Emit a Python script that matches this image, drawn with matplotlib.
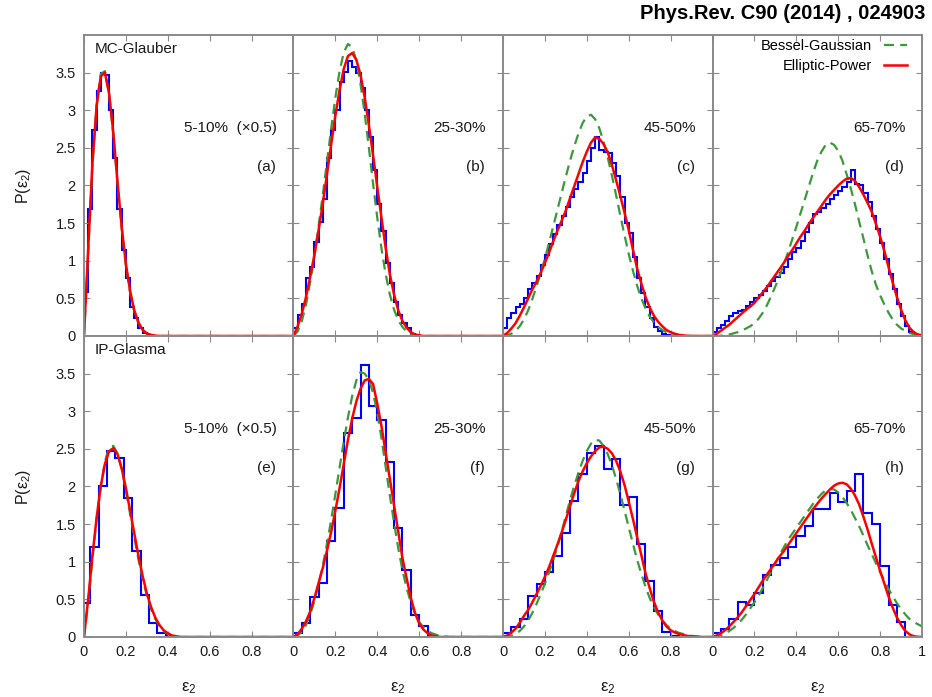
import numpy as np
import matplotlib.pyplot as plt

plt.rcParams['font.family'] = ['Liberation Sans', 'DejaVu Sans']
plt.rcParams['mathtext.fontset'] = 'custom'
plt.rcParams['mathtext.rm'] = 'Liberation Sans'
plt.rcParams['mathtext.it'] = 'Liberation Sans:italic'

# common epsilon_2 grid for the fitted curves (0 .. 1 in steps of 0.02)
eps = np.round(np.arange(51) * 0.02, 2)

# Elliptic-Power (red) and Bessel-Gaussian (green) curves
ep_a = [0, 1.15, 2.28, 3.05, 3.45, 3.50, 3.22, 2.70, 2.05, 1.45, 0.96, 0.60, 0.34, 0.18, 0.08, 0.035, 0.015, 0.005]
bg_a = [0, 1.10, 2.26, 3.06, 3.48, 3.52, 3.22, 2.68, 2.03, 1.43, 0.94, 0.58, 0.33, 0.17, 0.08, 0.03, 0.01]
ep_b = [0, 0.13, 0.30, 0.52, 0.79, 1.08, 1.41, 1.76, 2.15, 2.55, 2.93, 3.27, 3.55, 3.72, 3.76, 3.67, 3.47, 3.17,
        2.80, 2.40, 1.98, 1.57, 1.17, 0.82, 0.55, 0.34, 0.20, 0.11, 0.05, 0.02, 0.01]
bg_b = [0, 0.06, 0.20, 0.42, 0.72, 1.07, 1.46, 1.88, 2.32, 2.76, 3.17, 3.52, 3.77, 3.88, 3.84, 3.66, 3.35, 2.95,
        2.50, 2.02, 1.57, 1.16, 0.82, 0.55, 0.35, 0.21, 0.12, 0.06, 0.03, 0.01, 0.005]
ep_c = [0, 0.04, 0.10, 0.17, 0.27, 0.38, 0.50, 0.62, 0.72, 0.84, 0.97, 1.11, 1.26, 1.40, 1.53, 1.67, 1.83, 1.99,
        2.15, 2.31, 2.45, 2.57, 2.64, 2.62, 2.55, 2.44, 2.27, 2.07, 1.86, 1.64, 1.41, 1.15, 0.90, 0.70, 0.52, 0.38,
        0.27, 0.19, 0.13, 0.08, 0.05, 0.03, 0.015, 0.008, 0.003]
bg_c = [0, 0.01, 0.03, 0.07, 0.13, 0.22, 0.34, 0.49, 0.66, 0.84, 1.03, 1.24, 1.46, 1.68, 1.90, 2.12, 2.33, 2.52,
        2.69, 2.83, 2.92, 2.94, 2.88, 2.76, 2.58, 2.37, 2.13, 1.87, 1.60, 1.34, 1.09, 0.87, 0.67, 0.50, 0.37, 0.26,
        0.18, 0.12, 0.08, 0.05, 0.03, 0.02, 0.01, 0.005, 0.002]
ep_d = [0, 0.03, 0.07, 0.11, 0.15, 0.20, 0.25, 0.30, 0.35, 0.39, 0.44, 0.51, 0.58, 0.65, 0.73, 0.81, 0.89, 0.97,
        1.06, 1.14, 1.23, 1.32, 1.40, 1.49, 1.57, 1.65, 1.73, 1.81, 1.88, 1.94, 2.00, 2.05, 2.09, 2.10, 2.06, 1.98,
        1.88, 1.77, 1.65, 1.49, 1.32, 1.13, 0.92, 0.71, 0.52, 0.35, 0.21, 0.11, 0.05, 0.02, 0.01]
bg_d = [0, 0.0, 0.005, 0.01, 0.02, 0.035, 0.05, 0.07, 0.10, 0.13, 0.17, 0.23, 0.31, 0.41, 0.53, 0.66, 0.80, 0.95,
        1.11, 1.28, 1.45, 1.63, 1.81, 1.99, 2.17, 2.33, 2.45, 2.54, 2.57, 2.54, 2.46, 2.33, 2.15, 1.96, 1.75, 1.52,
        1.30, 1.07, 0.86, 0.68, 0.54, 0.42, 0.31, 0.22, 0.15, 0.10, 0.07, 0.04, 0.025, 0.015, 0.01]
ep_e = [0, 0.50, 1.07, 1.58, 2.00, 2.30, 2.47, 2.51, 2.43, 2.24, 1.98, 1.68, 1.38, 1.08, 0.81, 0.58, 0.40, 0.26,
        0.16, 0.09, 0.05, 0.02, 0.01]
bg_e = [0, 0.45, 1.02, 1.55, 2.00, 2.33, 2.52, 2.54, 2.44, 2.23, 1.95, 1.64, 1.33, 1.03, 0.77, 0.55, 0.37, 0.24,
        0.15, 0.08, 0.04, 0.02, 0.01]
ep_f = [0, 0.04, 0.11, 0.21, 0.34, 0.52, 0.72, 0.92, 1.15, 1.40, 1.68, 1.98, 2.30, 2.62, 2.90, 3.13, 3.30, 3.41,
        3.43, 3.36, 3.10, 2.80, 2.45, 2.10, 1.75, 1.40, 1.05, 0.78, 0.52, 0.32, 0.18, 0.10, 0.05, 0.02, 0.01]
bg_f = [0, 0.02, 0.07, 0.16, 0.30, 0.48, 0.70, 0.95, 1.24, 1.56, 1.90, 2.25, 2.60, 2.92, 3.20, 3.41, 3.52, 3.50,
        3.42, 3.24, 2.98, 2.64, 2.26, 1.88, 1.52, 1.18, 0.89, 0.65, 0.46, 0.31, 0.20, 0.13, 0.08, 0.05, 0.03, 0.015,
        0.008]
ep_g = [0, 0.02, 0.06, 0.11, 0.19, 0.28, 0.36, 0.46, 0.57, 0.68, 0.80, 0.93, 1.08, 1.23, 1.39, 1.56, 1.74, 1.91,
        2.07, 2.20, 2.31, 2.40, 2.47, 2.52, 2.53, 2.50, 2.44, 2.34, 2.20, 2.02, 1.80, 1.57, 1.33, 1.09, 0.85, 0.65,
        0.47, 0.33, 0.22, 0.14, 0.09, 0.06, 0.04, 0.025, 0.015, 0.008, 0.004]
bg_g = [0, 0.005, 0.02, 0.04, 0.08, 0.14, 0.22, 0.32, 0.44, 0.57, 0.71, 0.86, 1.02, 1.20, 1.40, 1.61, 1.82, 2.01,
        2.18, 2.34, 2.47, 2.57, 2.62, 2.61, 2.54, 2.43, 2.28, 2.10, 1.90, 1.68, 1.46, 1.24, 1.03, 0.84, 0.67, 0.52,
        0.40, 0.30, 0.22, 0.16, 0.11, 0.08, 0.055, 0.04, 0.025, 0.015, 0.01, 0.005]
ep_h = [0, 0.02, 0.05, 0.09, 0.14, 0.20, 0.26, 0.33, 0.41, 0.49, 0.57, 0.66, 0.75, 0.83, 0.91, 0.99, 1.07, 1.14,
        1.22, 1.30, 1.38, 1.46, 1.54, 1.62, 1.70, 1.77, 1.84, 1.90, 1.96, 2.01, 2.04, 2.05, 2.03, 1.97, 1.88, 1.76,
        1.60, 1.43, 1.24, 1.06, 0.88, 0.71, 0.54, 0.39, 0.26, 0.16, 0.08, 0.035, 0.01, 0.003]
bg_h = [0, 0.01, 0.02, 0.04, 0.08, 0.12, 0.17, 0.23, 0.30, 0.38, 0.46, 0.55, 0.65, 0.76, 0.87, 0.98, 1.09, 1.19,
        1.29, 1.37, 1.45, 1.53, 1.61, 1.69, 1.77, 1.84, 1.90, 1.95, 1.97, 1.96, 1.92, 1.86, 1.78, 1.69, 1.58, 1.47,
        1.35, 1.22, 1.10, 0.98, 0.86, 0.75, 0.64, 0.54, 0.45, 0.37, 0.30, 0.24, 0.20, 0.17, 0.14]

# histograms: MC-Glauber in bins of 0.02, IP-Glasma in bins of 0.04
hist_a = [0.58, 1.69, 2.74, 3.25, 3.50, 3.47, 3.00, 2.36, 1.69, 1.14, 0.77, 0.39, 0.24, 0.10, 0.04, 0.01]
hist_b = [0.10, 0.28, 0.43, 0.77, 0.92, 1.25, 1.51, 1.82, 2.36, 2.74, 3.00, 3.38, 3.51, 3.65, 3.58, 3.50, 3.30,
          3.00, 2.64, 2.20, 1.76, 1.39, 0.97, 0.70, 0.45, 0.28, 0.17, 0.10, 0.03]
hist_c = [0.10, 0.24, 0.30, 0.38, 0.43, 0.50, 0.62, 0.70, 0.80, 0.95, 1.08, 1.22, 1.35, 1.48, 1.60, 1.72, 1.85,
          1.95, 2.05, 2.16, 2.32, 2.50, 2.64, 2.47, 2.45, 2.43, 2.30, 2.12, 1.85, 1.50, 1.37, 1.05, 0.77, 0.57, 0.39,
          0.24, 0.12, 0.06, 0.03, 0.01]
hist_d = [0.05, 0.10, 0.14, 0.20, 0.27, 0.30, 0.33, 0.35, 0.40, 0.45, 0.50, 0.55, 0.60, 0.66, 0.73, 0.78, 0.84,
          0.92, 1.02, 1.12, 1.17, 1.26, 1.38, 1.50, 1.62, 1.65, 1.70, 1.76, 1.82, 1.88, 1.93, 1.98, 2.05, 2.20, 2.02,
          2.01, 1.90, 1.78, 1.60, 1.42, 1.24, 1.02, 0.82, 0.62, 0.43, 0.27, 0.13, 0.05, 0.01]
hist_e = [0.45, 1.20, 2.00, 2.47, 2.38, 1.85, 1.14, 0.56, 0.18, 0.05, 0.01]
hist_f = [0.05, 0.19, 0.53, 0.72, 1.27, 1.71, 2.71, 2.91, 3.62, 3.07, 2.89, 2.32, 1.45, 0.89, 0.29, 0.14, 0.01]
hist_g = [0.05, 0.13, 0.24, 0.54, 0.71, 0.87, 1.08, 1.38, 1.81, 2.17, 2.45, 2.54, 2.23, 2.36, 1.76, 1.86, 1.23,
          0.74, 0.34, 0.07, 0.01]
hist_h = [0.05, 0.10, 0.24, 0.47, 0.43, 0.59, 0.82, 0.96, 1.05, 1.20, 1.34, 1.48, 1.70, 1.70, 1.92, 1.80, 1.94,
          2.17, 1.65, 1.50, 0.94, 0.43, 0.20]
bin_width = [0.02, 0.02, 0.02, 0.02, 0.04, 0.04, 0.04, 0.04]
first_edge = [0.02, 0.02, 0.02, 0.02, 0.03, 0.04, 0.04, 0.04]

centralities = ['5-10%  (×0.5)', '25-30%', '45-50%', '65-70%']
letters = ['(a)', '(b)', '(c)', '(d)', '(e)', '(f)', '(g)', '(h)']
models = ['MC-Glauber', 'IP-Glasma']

ep_all = [ep_a, ep_b, ep_c, ep_d, ep_e, ep_f, ep_g, ep_h]
bg_all = [bg_a, bg_b, bg_c, bg_d, bg_e, bg_f, bg_g, bg_h]
hist_all = [hist_a, hist_b, hist_c, hist_d, hist_e, hist_f, hist_g, hist_h]


def full(v):
    # curves are zero beyond the last listed point
    return np.concatenate([v, np.zeros(len(eps) - len(v))])


def edges(i):
    n = len(hist_all[i])
    return np.concatenate([[0.0], first_edge[i] + bin_width[i] * np.arange(n)])


fig = plt.figure(figsize=(9.32, 6.97), dpi=100)
gs = fig.add_gridspec(2, 4, left=0.0901, right=0.9893, top=0.9498, bottom=0.0861,
                      wspace=0, hspace=0)
frame = '#8a8a8a'
txt = '#1a1a1a'

for i in range(8):
    row, col = divmod(i, 4)
    ax = fig.add_subplot(gs[row, col])
    ax.stairs(hist_all[i], edges(i), color='#0000ff', lw=1.5, baseline=0)
    ax.plot(eps, full(bg_all[i]), color='#3a9a3a', lw=1.6, ls=(0, (4.5, 2.8)),
            label='Bessel-Gaussian')
    ax.plot(eps, full(ep_all[i]), color='#ff0000', lw=1.8, label='Elliptic-Power')

    ax.set_xlim(0, 1)
    ax.set_ylim(0, 4)
    ax.set_xticks([0, 0.2, 0.4, 0.6, 0.8, 1.0])
    ax.set_yticks([0, 0.5, 1, 1.5, 2, 2.5, 3, 3.5])
    for s in ax.spines.values():
        s.set_color(frame)
        s.set_linewidth(1.4)
    ax.tick_params(direction='in', length=4, width=0.8, color=frame, labelcolor=txt,
                   labelsize=10.5, top=True, right=True, pad=6)

    if row == 1:
        xl = ['0', '0.2', '0.4', '0.6', '0.8', '1' if col == 3 else '']
        ax.set_xticklabels(xl)
        ax.set_xlabel('ε$_2$', fontsize=12, color=txt, labelpad=15)
    else:
        ax.set_xticklabels([])
    if col == 0:
        ax.set_yticklabels(['0', '0.5', '1', '1.5', '2', '2.5', '3', '3.5'])
        ax.set_ylabel('P(ε$_2$)', fontsize=11.5, color=txt, labelpad=16)
        ax.text(0.05, 0.955, models[row], transform=ax.transAxes, fontsize=11,
                color=txt, ha='left', va='center')
    else:
        ax.set_yticklabels([])

    ax.text(0.92, 0.69, centralities[col], transform=ax.transAxes, fontsize=11,
            color=txt, ha='right', va='center')
    ax.text(0.915, 0.56, letters[i], transform=ax.transAxes, fontsize=11,
            color=txt, ha='right', va='center')

    if i == 3:
        ax.legend(loc='upper right', bbox_to_anchor=(0.943, 0.995), frameon=False,
                  markerfirst=False, fontsize=10.5, handlelength=1.6, handletextpad=0.8,
                  labelspacing=0.38, borderaxespad=0, borderpad=0.2)

fig.text(0.993, 0.98, 'Phys.Rev. C90 (2014) , 024903', ha='right', va='center',
         fontsize=14.5, fontweight='bold', color='black')

fig.savefig('out.png', dpi=100)
